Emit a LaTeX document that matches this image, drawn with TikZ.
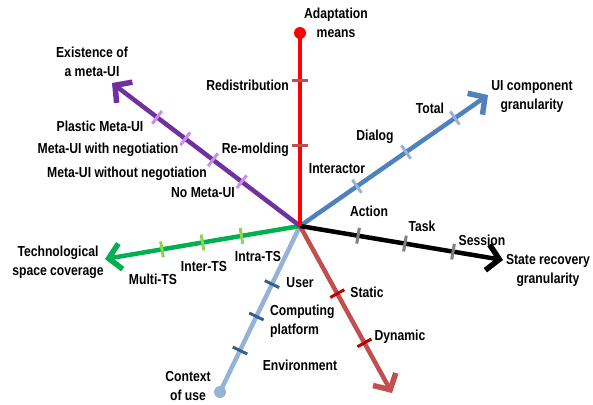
\documentclass[tikz,border=0pt]{standalone}
\usepackage{fontspec}
\setmainfont{Liberation Sans}[FakeStretch=0.84]
\usetikzlibrary{arrows.meta}

\definecolor{adaptred}{RGB}{255,0,0}
\definecolor{adapttick}{RGB}{192,80,77}
\definecolor{metapurple}{RGB}{112,48,160}
\definecolor{metatick}{RGB}{204,140,232}
\definecolor{uiblue}{RGB}{79,129,189}
\definecolor{uitick}{RGB}{149,179,215}
\definecolor{stategray}{RGB}{128,128,128}
\definecolor{migred}{RGB}{192,80,77}
\definecolor{migtick}{RGB}{192,0,0}
\definecolor{ctxblue}{RGB}{149,179,215}
\definecolor{ctxtick}{RGB}{55,96,146}
\definecolor{tsgreen}{RGB}{0,176,80}
\definecolor{tstick}{RGB}{146,208,80}

\begin{document}
\begin{tikzpicture}[x=1pt,y=-1pt,
  axis/.style={line width=4.5pt},
  barb/.style={-{Straight Barb[length=12pt,width=26pt,line width=5.5pt]}},
  tickmark/.style={sloped,rectangle,fill=#1,inner sep=0pt,minimum width=3pt,minimum height=16pt},
  enddot/.style={circle,fill=#1,inner sep=0pt,minimum size=12pt},
  lbl/.style={font=\fontsize{14.5}{19}\selectfont\bfseries,inner sep=0pt,align=center}]
\useasboundingbox (0,0) rectangle (593,404);
\coordinate (o) at (300,226);
% ends of the axes
\node[enddot=adaptred] (adapt) at (300,33) {};
\node[enddot=ctxblue] (ctx) at (220,392) {};
\coordinate (meta) at (112,83);
\coordinate (uicomp) at (488,95);
\coordinate (state) at (503,260);
\coordinate (mig) at (392,393);
\coordinate (techsp) at (105,259);
% axes with their ticks
\draw[axis,ctxblue] (o) -- (ctx.center)
  node[tickmark=ctxtick,pos=.35] (t-user) {}
  node[tickmark=ctxtick,pos=.545] (t-comp) {}
  node[tickmark=ctxtick,pos=.75] (t-env) {};
\draw[axis,migred,barb] (o) -- (mig)
  node[tickmark=migtick,pos=.405] (t-static) {}
  node[tickmark=migtick,pos=.70] (t-dyn) {};
\draw[axis,tsgreen,barb] (o) -- (techsp)
  node[tickmark=tstick,pos=.30] (t-intra) {}
  node[tickmark=tstick,pos=.50] (t-inter) {}
  node[tickmark=tstick,pos=.708] (t-multi) {};
\draw[axis,metapurple,barb] (o) -- (meta)
  node[tickmark=metatick,pos=.31] (t-nometa) {}
  node[tickmark=metatick,pos=.463] (t-without) {}
  node[tickmark=metatick,pos=.61] (t-with) {}
  node[tickmark=metatick,pos=.76] (t-plastic) {};
\draw[axis,uiblue,barb] (o) -- (uicomp)
  node[tickmark=uitick,pos=.303] (t-interactor) {}
  node[tickmark=uitick,pos=.564] (t-dialog) {}
  node[tickmark=uitick,pos=.824] (t-total) {};
\draw[axis,black,barb] (o) -- (state)
  node[tickmark=stategray,pos=.286] (t-action) {}
  node[tickmark=stategray,pos=.517] (t-task) {}
  node[tickmark=stategray,pos=.754] (t-session) {};
\draw[axis,adaptred] (o) -- (adapt.center)
  node[tickmark=adapttick,pos=.415] (t-remold) {}
  node[tickmark=adapttick,pos=.756] (t-redist) {};
% axis titles
\node[lbl] (adapt-l) at (336,23) {Adaptation\\means};
\node[lbl] (meta-l) at (92,62) {Existence of\\a meta-UI};
\node[lbl] (uicomp-l) at (532,97) {UI component\\granularity};
\node[lbl] (state-l) at (548,270) {State recovery\\granularity};
\node[lbl] (techsp-l) at (58,262) {Technological\\space coverage};
\node[lbl] (ctx-l) at (188,386) {Context\\of use};
% values
\node[lbl,anchor=east] (redist-l) at (289,85) {Redistribution};
\node[lbl,anchor=east] (remold-l) at (289,150) {Re-molding};
\node[lbl] (plastic-l) at (100,126) {Plastic Meta-UI};
\node[lbl] (with-l) at (108,150) {Meta-UI with negotiation};
\node[lbl] (without-l) at (127,174) {Meta-UI without negotiation};
\node[lbl] (nometa-l) at (203,193) {No Meta-UI};
\node[lbl] (total-l) at (430,108) {Total};
\node[lbl] (dialog-l) at (375,137) {Dialog};
\node[lbl] (interactor-l) at (337,169) {Interactor};
\node[lbl] (action-l) at (369,211) {Action};
\node[lbl] (task-l) at (422,226) {Task};
\node[lbl] (session-l) at (482,240) {Session};
\node[lbl] (static-l) at (367,292) {Static};
\node[lbl] (dyn-l) at (400,337) {Dynamic};
\node[lbl] (user-l) at (300,283) {User};
\node[lbl,align=left,anchor=west] (comp-l) at (270,321) {Computing\\platform};
\node[lbl] (env-l) at (300,365) {Environment};
\node[lbl] (multi-l) at (153,279) {Multi-TS};
\node[lbl] (inter-l) at (204,267) {Inter-TS};
\node[lbl] (intra-l) at (258,257) {Intra-TS};
\end{tikzpicture}
\end{document}
